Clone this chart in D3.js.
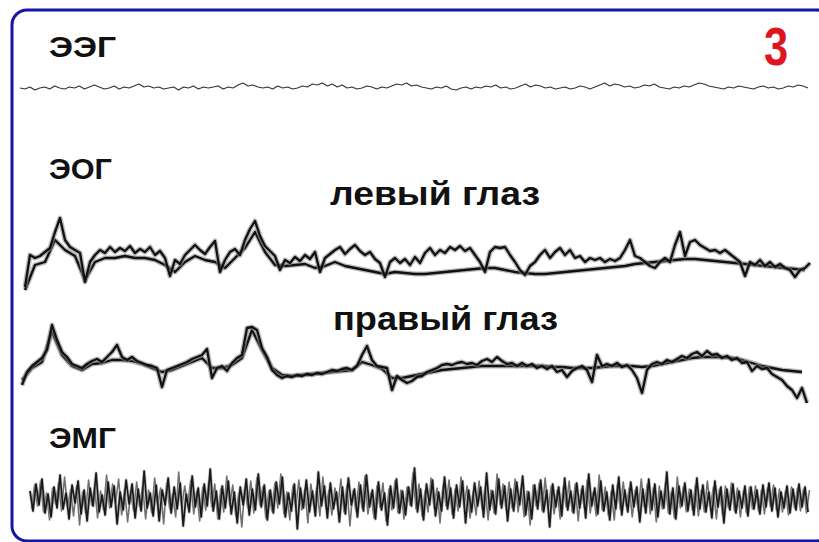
<!DOCTYPE html>
<html>
<head>
<meta charset="utf-8">
<script src="https://cdn.jsdelivr.net/npm/d3@7"></script>
<style>
  body { margin: 0; background: #fff; }
  svg { display: block; }
</style>
</head>
<body>
<svg id="chart" width="819" height="542"></svg>
<script>
// channel names, eye captions and panel number
const channelLabels = ['ЭЭГ', 'ЭОГ', 'ЭМГ'];
const eyeLabels = ['левый глаз', 'правый глаз'];
const panelNumber = '3';

// EEG amplitude (arbitrary units, up = positive)
const eegValues = [
  0,-1,1,-2,0,1,-1,2,0,-1,1,0,2,-1,1,3,1,-1,0,2,
  -1,1,0,2,4,1,2,0,1,-1,0,1,-2,1,0,2,-1,1,0,1,
  2,-1,1,0,3,5,2,3,1,0,1,-1,2,0,1,-1,0,2,1,4,
  3,5,2,4,1,3,0,1,-1,0,2,1,-1,1,0,2,4,3,5,2,
  3,1,0,-1,1,0,2,-1,-2,0,1,-1,1,0,2,1,3,0,1,-1,
  0,2,4,1,3,2,0,1,-1,0,1,-1,0,2,1,-1,1,3,5,2,
  4,3,1,2,0,1,3,2,4,1,0,-1,1,0,2,1,3,5,4,2,
  1,0,-1,1,0,2,1,0,-1,1,2,0,1,-1,0,2,1,3,2,0
];

// EOG left eye: raw trace and slow trace
const eogLeftRaw = [
  -22,10,7,9,13,17,33,47,25,18,
  15,12,-17,3,10,15,12,18,13,17,
  14,19,12,16,13,18,10,14,7,-11,
  5,1,10,15,20,15,11,18,24,-7,
  5,13,16,10,25,36,44,29,19,14,
  9,-5,5,2,8,4,10,6,13,-7,
  7,11,15,18,11,16,20,14,10,13,
  6,2,-12,3,7,2,6,0,8,2,
  12,17,10,15,12,18,15,19,14,17,
  10,3,-7,13,18,17,18,10,3,-5,
  -10,-1,3,10,15,7,13,17,10,15,
  7,9,3,7,5,7,3,6,4,7,
  15,25,9,7,3,-1,-3,3,7,3,
  20,33,9,23,25,20,17,14,15,12,
  15,11,7,3,-11,3,0,5,-1,3,
  -2,1,-3,-5,-12,-5,-3,2
];
const eogLeftSlow = [
  -25,0,3,25,15,9,-15,3,7,7,
  9,7,7,5,0,-7,3,9,5,3,
  -3,7,17,33,13,0,-1,0,1,-3,
  -1,3,-1,-3,-5,-7,-9,-7,-8,-9,
  -9,-8,-7,-6,-5,-4,-3,-3,-5,-7,
  -8,-9,-9,-8,-7,-6,-5,-4,-3,-2,
  -1,1,2,3,4,5,6,6,5,4,
  3,2,1,0,-1,-2,-3,-4,-5
];

// EOG right eye: raw trace and slow trace
const eogRightRaw = [
  -15,-2,4,8,12,20,45,30,18,13,
  6,4,2,6,9,11,8,13,18,25,
  13,10,13,9,7,5,4,2,-17,0,
  2,4,6,8,11,13,15,21,-8,2,
  4,-1,7,12,15,42,43,40,22,13,
  0,-5,-8,-6,-7,-5,-6,-4,-5,-3,
  -4,-2,0,-1,1,2,0,4,15,24,
  10,4,3,2,-20,-6,-10,-13,-11,-7,
  -6,-2,0,2,5,6,5,7,8,6,
  7,5,9,11,8,13,9,6,7,4,
  7,4,6,2,4,1,4,-2,0,-7,
  -1,2,4,0,-12,15,4,6,4,7,
  3,5,0,-8,-23,0,6,8,6,10,
  8,11,14,12,16,18,14,19,15,16,
  12,14,10,12,7,8,-1,4,1,2,
  -4,-7,-10,-16,-20,-28,-18,-33
];
const eogRightSlow = [
  -10,2,8,38,15,4,0,6,7,10,
  10,9,6,2,-2,0,4,8,12,2,
  2,5,12,40,20,2,-5,-6,-5,-4,
  -3,-2,-1,0,8,5,1,-8,-8,-6,
  -4,-2,0,1,2,3,4,4,4,4,
  4,4,4,3,3,2,2,2,3,4,
  4,4,3,4,6,8,10,12,13,13,
  13,12,10,7,4,2,0,-1,-2
];

// EMG amplitude, two overlaid sweeps
const emgValues = [
  8,-12,15,-6,20,-14,5,-18,12,-9,24,-10,6,-20,14,-4,18,-15,9,-22,
  11,-7,26,-13,4,-16,17,-8,13,-25,7,-11,19,-5,15,-19,10,-12,28,-9,
  6,-17,14,-22,9,-6,21,-14,12,-10,16,-27,5,-13,23,-8,11,-18,15,-7,
  30,-12,8,-20,13,-9,18,-15,7,-24,12,-6,20,-16,10,-11,25,-8,14,-21,
  9,-14,17,-5,22,-18,6,-12,15,-30,11,-9,19,-13,8,-17,27,-7,13,-19,
  16,-10,7,-23,12,-15,21,-6,10,-18,14,-12,24,-8,9,-20,17,-11,6,-26,
  13,-9,20,-14,8,-16,12,-7,31,-13,10,-21,15,-6,19,-17,7,-12,22,-10,
  11,-19,14,-8,18,-24,9,-13,16,-7,12,-18,26,-11,8,-15,20,-9,13,-22,
  10,-12,17,-6,23,-16,7,-20,14,-10,19,-13,9,-28,15,-8,12,-17,21,-11,
  8,-14,16,-9,13,-19,25,-7,11,-15,18,-12,7,-21,14,-10,22,-16,9,-13,
  17,-8,12,-23,10,-14,20,-11,15,-18,8,-9,27,-15,11,-20,13,-7,16,-12,
  9,-16,21,-10,14,-13,7,-19,18,-8,12,-24,10,-11,15,-14,8,-9,13,-17,
  12,-10,9,-15,14,-8,16,-12,11,-18,7,-9,13,-14,10,-11,15,-8,12,-13
];
const emgValues2 = [
  -10,14,-7,18,-13,6,-21,11,-5,16,-12,22,-8,9,-17,13,-26,7,-14,19,
  -6,12,-19,8,-11,24,-9,15,-4,20,-16,10,-23,6,-12,17,-8,13,-20,9,
  -14,21,-7,11,-25,16,-10,5,-18,27,-9,13,-6,19,-15,8,-22,12,-11,17,
  -8,15,-20,10,-13,23,-7,14,-17,6,-28,11,-9,18,-14,21,-6,12,-19,8,
  -12,16,-9,25,-15,7,-21,13,-8,19,-11,10,-24,15,-6,12,-17,22,-10,9,
  -16,11,-7,20,-13,14,-27,8,-12,17,-9,23,-15,6,-19,13,-8,16,-22,10,
  -11,18,-14,9,-20,12,-6,26,-10,15,-17,8,-13,21,-9,11,-24,14,-7,19,
  -15,10,-12,22,-8,13,-19,7,-16,18,-10,12,-21,9,-14,25,-6,15,-11,17,
  -9,20,-13,11,-18,8,-26,14,-7,16,-12,21,-10,13,-15,9,-20,12,-8,18,
  -13,15,-22,10,-9,19,-14,7,-17,24,-11,12,-16,8,-21,14,-10,17,-7,11,
  -18,9,-12,20,-8,15,-15,11,-23,13,-10,16,-14,7,-19,22,-9,12,-13,10,
  -11,14,-17,9,-13,18,-8,12,-20,10,-15,13,-9,16,-12,11,-18,8,-14,12,
  -10,13,-12,9,-15,11,-8,14,-11,10,-13,8,-16,12,-9,11,-12,10,-14,9
];

const svg = d3.select('#chart');
const font = '"Liberation Sans", Arial, sans-serif';

// blue frame, open to the right and bottom
svg.append('rect')
  .attr('x', 12).attr('y', 10)
  .attr('width', 820).attr('height', 531)
  .attr('rx', 15).attr('ry', 15)
  .attr('fill', 'none')
  .attr('stroke', '#1414a8')
  .attr('stroke-width', 3);

function drawTrace(values, x0, x1, baseY, opts) {
  const x = d3.scaleLinear().domain([0, values.length - 1]).range([x0, x1]);
  const y = d3.scaleLinear().domain([-50, 50]).range([baseY + 50, baseY - 50]);
  const line = d3.line().x((d, i) => x(i)).y(d => y(d));
  const g = svg.append('g');
  if (opts.halo) {
    g.append('path')
      .datum(values)
      .attr('fill', 'none')
      .attr('stroke', opts.haloColor || '#8a8a8a')
      .attr('stroke-width', opts.halo)
      .attr('stroke-linejoin', 'round')
      .attr('opacity', 0.6)
      .attr('d', line);
  }
  g.append('path')
    .datum(values)
    .attr('fill', 'none')
    .attr('stroke', opts.color || '#111')
    .attr('stroke-width', opts.width)
    .attr('stroke-linejoin', 'round')
    .attr('d', line);
}

// traces
drawTrace(eegValues, 20, 808, 88, { width: 1.1, color: '#333' });

drawTrace(eogLeftSlow, 25, 805, 265, { width: 2.3, halo: 5 });
drawTrace(eogLeftRaw, 25, 810, 265, { width: 2.3, halo: 5 });

drawTrace(eogRightSlow, 22, 802, 370, { width: 2.3, halo: 5 });
drawTrace(eogRightRaw, 22, 807, 370, { width: 2.3, halo: 5 });

drawTrace(emgValues2, 31.5, 809.5, 499, { width: 1.6, color: '#707070' });
drawTrace(emgValues, 30, 808, 499, { width: 1.7, color: '#1a1a1a', halo: 3.2, haloColor: '#9a9a9a' });

// labels
const labelPos = [{ y: 57, w: 67 }, { y: 179, w: 63 }, { y: 448, w: 67 }];
svg.selectAll('text.channel')
  .data(channelLabels)
  .join('text')
  .attr('class', 'channel')
  .attr('x', 49)
  .attr('y', (d, i) => labelPos[i].y)
  .attr('textLength', (d, i) => labelPos[i].w)
  .attr('lengthAdjust', 'spacingAndGlyphs')
  .attr('font-family', font)
  .attr('font-weight', 'bold')
  .attr('font-size', 29)
  .attr('fill', '#111')
  .text(d => d);

const eyePos = [{ x: 330, y: 205, w: 210 }, { x: 333, y: 330, w: 225 }];
svg.selectAll('text.eye')
  .data(eyeLabels)
  .join('text')
  .attr('class', 'eye')
  .attr('x', (d, i) => eyePos[i].x)
  .attr('y', (d, i) => eyePos[i].y)
  .attr('textLength', (d, i) => eyePos[i].w)
  .attr('lengthAdjust', 'spacingAndGlyphs')
  .attr('font-family', font)
  .attr('font-weight', 'bold')
  .attr('font-size', 33)
  .attr('fill', '#111')
  .text(d => d);

svg.append('text')
  .attr('transform', 'translate(764,65) scale(0.82,1)')
  .attr('font-family', font)
  .attr('font-weight', 'bold')
  .attr('font-size', 53)
  .attr('fill', '#e0141e')
  .text(panelNumber);
</script>
</body>
</html>
